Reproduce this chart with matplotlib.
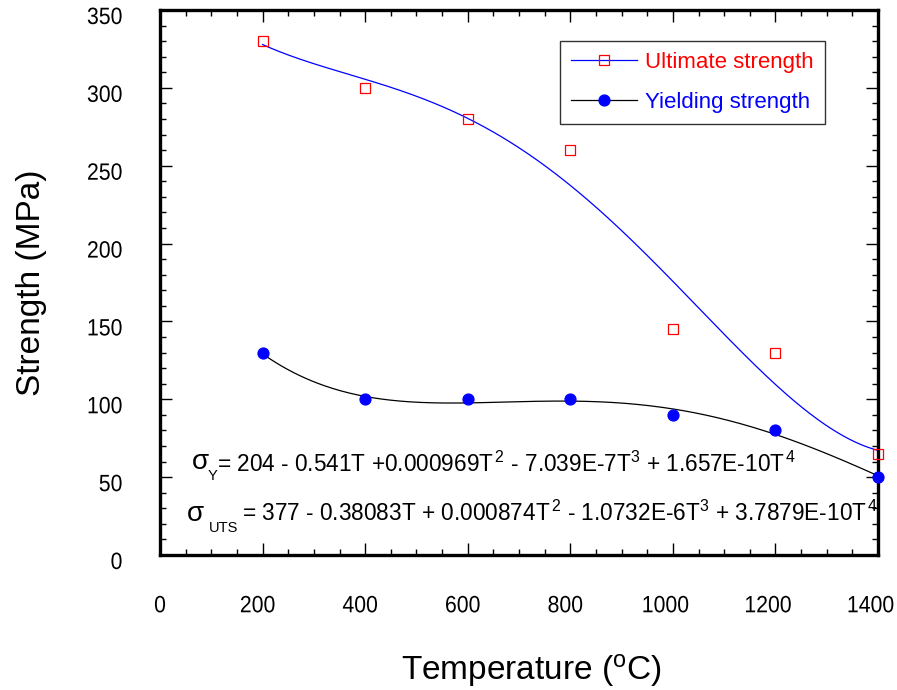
import matplotlib
matplotlib.use("Agg")
import numpy as np
import matplotlib.pyplot as plt
import matplotlib.transforms as mtransforms
from matplotlib.patheffects import AbstractPathEffect
from matplotlib.ticker import MultipleLocator

# Measured strengths (MPa) at each test temperature (deg C)
temperature = [200, 400, 600, 800, 1000, 1200, 1400]
ultimate_strength = [330, 300, 280, 260, 145, 130, 65]
yield_strength = [130, 100, 100, 100, 90, 80, 50]

# Fourth-order polynomial fits, coefficients of T^0 .. T^4
yield_coeffs = [204, -0.541, 0.000969, -7.039e-7, 1.657e-10]
uts_coeffs = [377, -0.38083, 0.000874, -1.0732e-6, 3.7879e-10]

x_ticks = [0, 200, 400, 600, 800, 1000, 1200, 1400]
y_ticks = [0, 50, 100, 150, 200, 250, 300, 350]


class Condensed(AbstractPathEffect):
    """Squeeze glyphs horizontally to give a narrow typeface look."""

    def __init__(self, sx=0.9, anchor="center"):
        super().__init__()
        self.sx = sx
        self.anchor = anchor

    def draw_path(self, renderer, gc, tpath, affine, rgbFace=None):
        ext = tpath.get_extents(affine)
        cx = ext.x1 if self.anchor == "right" else 0.5 * (ext.x0 + ext.x1)
        squeeze = mtransforms.Affine2D().translate(-cx, 0).scale(self.sx, 1).translate(cx, 0)
        renderer.draw_path(gc, tpath, affine + squeeze, rgbFace)


plt.rcParams["font.family"] = ["Liberation Sans", "DejaVu Sans"]
plt.rcParams["mathtext.fontset"] = "custom"
plt.rcParams["mathtext.rm"] = "Liberation Sans"
plt.rcParams["mathtext.it"] = "Liberation Sans"
plt.rcParams["mathtext.bf"] = "Liberation Sans:bold"

fig = plt.figure(figsize=(8.97, 6.90), dpi=100)
ax = fig.add_axes([160 / 897, 1 - 555 / 690, 718 / 897, 545 / 690])

# Fitted curves
t_fit = np.linspace(200, 1400, 300)
uts_fit = np.polynomial.polynomial.polyval(t_fit, uts_coeffs)
ys_fit = np.polynomial.polynomial.polyval(t_fit, yield_coeffs)

ax.plot(t_fit, uts_fit, color="#0000ff", lw=0.9, zorder=2)
ax.plot(t_fit, ys_fit, color="black", lw=0.9, zorder=2)

ax.plot(temperature, ultimate_strength, linestyle="none", marker="s", ms=7.6,
        mfc="none", mec="#ff0000", mew=0.9, clip_on=False, zorder=3)
ax.plot(temperature, yield_strength, linestyle="none", marker="o", ms=7.8,
        mfc="#0000ff", mec="#0000ff", clip_on=False, zorder=3)

# Legend proxies: fit line with measured-point marker
h_uts, = ax.plot([], [], color="#0000ff", lw=0.9, marker="s", ms=7.6,
                 mfc="none", mec="#ff0000", mew=0.9)
h_ys, = ax.plot([], [], color="black", lw=0.9, marker="o", ms=7.8,
                mfc="#0000ff", mec="#0000ff")
leg = ax.legend([h_uts, h_ys], ["Ultimate strength", "Yielding strength"],
                loc="upper right", bbox_to_anchor=((825 - 160) / 718, (555 - 41) / 545),
                borderaxespad=0, fontsize=16, handlelength=3.0, handletextpad=0.35,
                labelspacing=0.86, borderpad=0.5, fancybox=False, framealpha=1,
                edgecolor="#333333", numpoints=1)
leg.get_frame().set_linewidth(1.0)
for txt, col in zip(leg.get_texts(), ["#ff0000", "#0000ff"]):
    txt.set_color(col)

ax.set_xlim(0, 1400)
ax.set_ylim(0, 350)
ax.set_xticks(x_ticks, [str(v) for v in x_ticks])
ax.set_yticks(y_ticks, [str(v) for v in y_ticks])
ax.xaxis.set_minor_locator(MultipleLocator(50))
ax.yaxis.set_minor_locator(MultipleLocator(10))

for s in ax.spines.values():
    s.set_linewidth(2.4)
ax.tick_params(which="both", direction="in", top=True, right=True, width=1.0)
ax.tick_params(which="major", length=8.5)
ax.tick_params(which="minor", length=4.3)
ax.tick_params(axis="x", which="major", pad=29)
ax.tick_params(axis="y", which="major", pad=27)

for lab, v in zip(ax.get_xticklabels(), x_ticks):
    lab.set_fontsize(17)
    lab.set_path_effects([Condensed(0.9, "center")])
    dx = -0.025 * (len(str(v)) - 1)
    lab.set_transform(lab.get_transform()
                      + mtransforms.ScaledTranslation(dx, 0, fig.dpi_scale_trans))
shift = mtransforms.ScaledTranslation(0, -0.055, fig.dpi_scale_trans)
for lab in ax.get_yticklabels():
    lab.set_fontsize(17)
    lab.set_path_effects([Condensed(0.9, "right")])
    lab.set_transform(lab.get_transform() + shift)

ax.set_xlabel(r"Temperature ($^{\rm o}$C)", fontsize=24)
ax.set_ylabel("Strength (MPa)", fontsize=24)
ax.xaxis.set_label_coords((531 - 160) / 718, (555 - 652) / 545)
ax.yaxis.set_label_coords((47 - 160) / 718, 0.5)

# Fit equations
eq_size = 16.3
ax.text(62, 55.0, "\u03c3", fontsize=20, va="baseline", ha="left")
ax.text(93, 48.0, "Y", fontsize=10.5, va="baseline", ha="left")
ax.text(112, 53.3, r"= 204 - 0.541T +0.000969T$^{\,2}$ - 7.039E-7T$^3$ + 1.657E-10T$^{\,4}$",
        fontsize=eq_size, va="baseline", ha="left")

ax.text(53, 22.0, "\u03c3", fontsize=20, va="baseline", ha="left")
ax.text(96, 14.8, "UTS", fontsize=10.5, va="baseline", ha="left")
ax.text(160, 22.0, r"= 377 - 0.38083T + 0.000874T$^{\,2}$ - 1.0732E-6T$^3$ + 3.7879E-10T$^{\,4}$",
        fontsize=eq_size, va="baseline", ha="left")

fig.savefig("out.png", dpi=100)
